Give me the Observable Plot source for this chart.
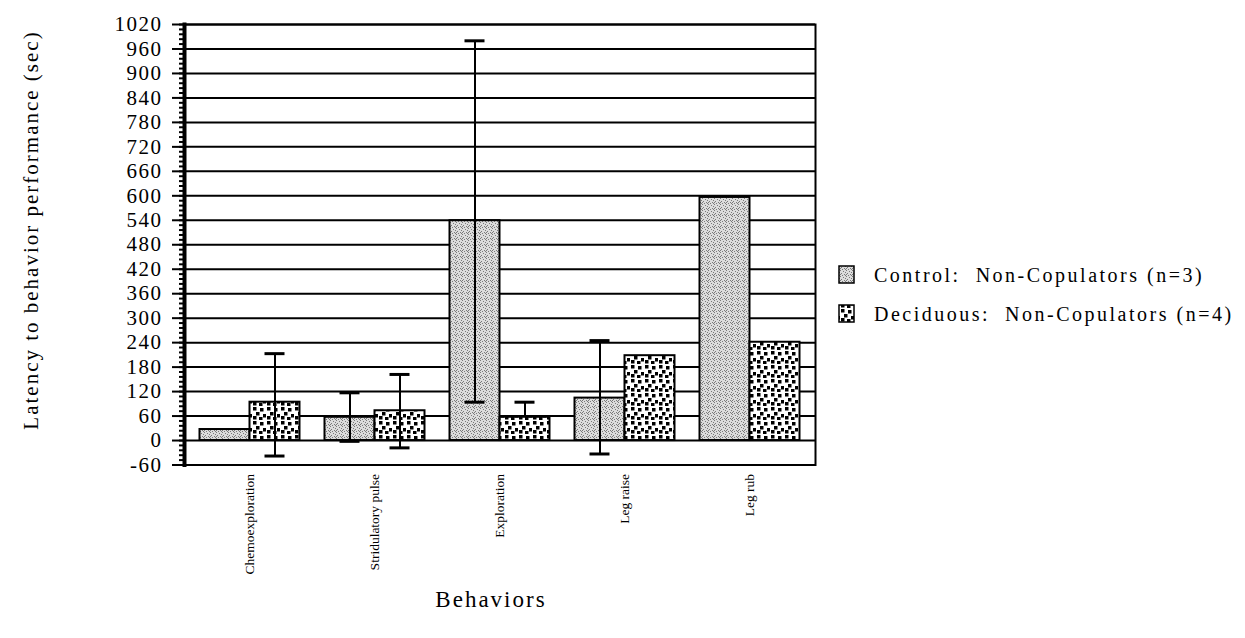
<!DOCTYPE html>
<html><head><meta charset="utf-8">
<script src="https://cdn.jsdelivr.net/npm/d3@7"></script>
<script src="https://cdn.jsdelivr.net/npm/@observablehq/plot@0.6"></script>
<style>
body{margin:0;background:#fff}
g[aria-label="y-axis tick label"] text{letter-spacing:1.5px}
</style>
</head><body><div id="chart"></div>
<script>
// ---- data ----
const behaviors = ["Chemoexploration", "Stridulatory pulse", "Exploration", "Leg raise", "Leg rub"];
const seriesKeys = ["Control", "Deciduous"];
const legendLabels = ["Control:  Non-Copulators (n=3)", "Deciduous:  Non-Copulators (n=4)"];
const controlMeans = [27, 57, 539, 104, 596];
const deciduousMeans = [94, 73, 57, 208, 241];
// visible error-bar ends (null = not visible in the reference)
const controlErrLow  = [null, -2, 94, -33, null];
const controlErrHigh = [null, 117, 980, 245, null];
const deciduousErrLow  = [-38, -18, null, null, null];
const deciduousErrHigh = [213, 162, 94, null, null];
const yTicks = d3.range(-60, 1021, 60);
const yMinorTicks = d3.range(-60, 1021, 12);
const xTitle = "Behaviors";
const yTitle = "Latency to behavior performance (sec)";

// ---- layout constants (in category units) ----
const groupWidth = 0.8;   // two bars side by side per behavior
const outerPad = 0.524;   // space left of the first / right of the last group
const capHalf = 0.08;     // half width of the error-bar caps

// ---- tables built from the arrays ----
const rows = [];
behaviors.forEach((b, i) => {
  rows.push({i, behavior: b, series: "Control", value: controlMeans[i], lo: controlErrLow[i], hi: controlErrHigh[i],
             x1: i - groupWidth / 2, x2: i});
  rows.push({i, behavior: b, series: "Deciduous", value: deciduousMeans[i], lo: deciduousErrLow[i], hi: deciduousErrHigh[i],
             x1: i, x2: i + groupWidth / 2});
});
rows.forEach(d => d.xc = (d.x1 + d.x2) / 2);
const errs = rows.filter(d => d.hi != null);
const caps = [];
errs.forEach(d => {
  caps.push({...d, y: d.hi});
  if (d.lo != null) caps.push({...d, y: d.lo});
});

const W = 1245, H = 638;
const serif = "'Liberation Serif', 'Times New Roman', serif";

const chart = Plot.plot({
  width: W, height: H,
  marginLeft: 184, marginRight: 430, marginTop: 24, marginBottom: 173.5,
  style: {background: "white", fontFamily: serif, color: "black", overflow: "visible"},
  x: {domain: [-outerPad, behaviors.length - 1 + outerPad], axis: null},
  y: {domain: [-60, 1020], axis: null},
  color: {domain: seriesKeys, range: ["url(#ctrlFill)", "url(#decFill)"]},
  marks: [
    Plot.ruleY(yTicks.filter(v => v > -60), {stroke: "black", strokeWidth: 2}),
    Plot.rectY(rows, {x1: "x1", x2: "x2", y1: 0, y2: "value", fill: "series", stroke: "black", strokeWidth: 2}),
    Plot.ruleX(errs, {x: "xc", y1: d => d.lo ?? d.value, y2: "hi", stroke: "black", strokeWidth: 2}),
    Plot.ruleY(caps, {y: "y", x1: d => d.xc - capHalf, x2: d => d.xc + capHalf, stroke: "black", strokeWidth: 3}),
    Plot.frame({stroke: "black", strokeWidth: 2}),
    Plot.frame({anchor: "left", stroke: "black", strokeWidth: 4}),
    Plot.axisY({ticks: yMinorTicks, tickSize: 5, tickFormat: () => "", label: null, strokeWidth: 2}),
    Plot.axisY({ticks: yTicks, tickSize: 12, tickPadding: 10, fontSize: 21, label: null, strokeWidth: 2,
                tickFormat: d => String(d)}),
    Plot.axisX({ticks: d3.range(behaviors.length), tickFormat: i => behaviors[i], anchor: "bottom",
                tickRotate: -90, tickSize: 0, tickPadding: 9, fontSize: 13.5, label: null})
  ]
});

document.getElementById("chart").appendChild(chart);

// patterns for the fills
const svg = d3.select(chart);
const defs = svg.insert("defs", ":first-child");
const p1 = defs.append("pattern").attr("id", "ctrlFill").attr("patternUnits", "userSpaceOnUse").attr("width", 6).attr("height", 6);
p1.append("rect").attr("width", 6).attr("height", 6).attr("fill", "#dcdcdc");
[[0,0],[3,1],[5,2],[1,3],[4,4],[2,5],[0,4],[5,5]].forEach(([x,y]) => p1.append("rect").attr("x", x).attr("y", y).attr("width", 1).attr("height", 1).attr("fill", "#7a7a7a"));
const p2 = defs.append("pattern").attr("id", "decFill").attr("patternUnits", "userSpaceOnUse").attr("width", 14).attr("height", 14);
p2.append("rect").attr("width", 14).attr("height", 14).attr("fill", "white");
[[1,1],[8,2],[4,6],[11,8],[1,10],[7,11]].forEach(([x,y]) => p2.append("rect").attr("x", x).attr("y", y).attr("width", 3.5).attr("height", 3.5).attr("fill", "black"));

// legend
const fills = ["url(#ctrlFill)", "url(#decFill)"];
const legendY = [266, 305];
legendLabels.forEach((lab, i) => {
  svg.append("rect").attr("x", 839).attr("y", legendY[i]).attr("width", 15).attr("height", 17)
    .attr("fill", fills[i]).attr("stroke", "black").attr("stroke-width", 1.5);
  svg.append("text").attr("x", 874).attr("y", legendY[i] + 16).attr("text-anchor", "start")
    .attr("font-family", serif).attr("font-size", 20).attr("letter-spacing", "2.5px")
    .style("white-space", "pre").text(lab);
});

// axis titles
svg.append("text").attr("transform", "translate(38,230) rotate(-90)").attr("text-anchor", "middle")
  .attr("font-family", serif).attr("font-size", 21).attr("letter-spacing", "2px").text(yTitle);
svg.append("text").attr("x", 491).attr("y", 607).attr("text-anchor", "middle")
  .attr("font-family", serif).attr("font-size", 23).attr("letter-spacing", "2px").text(xTitle);
</script>
</body></html>
